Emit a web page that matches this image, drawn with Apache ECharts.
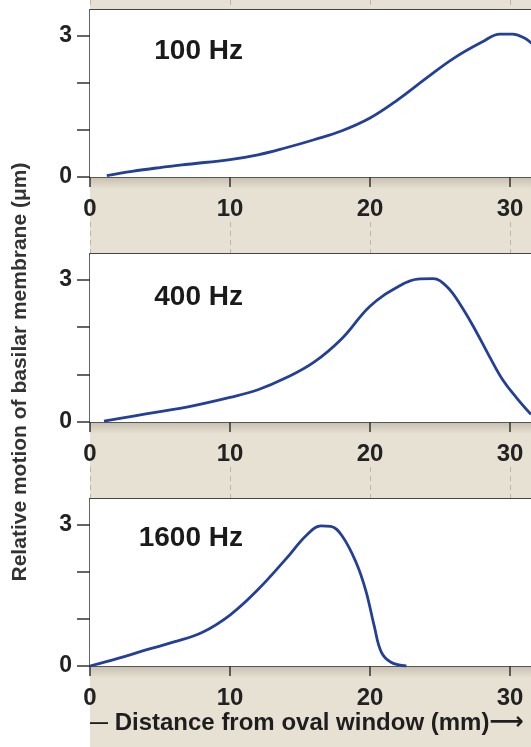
<!DOCTYPE html>
<html>
<head>
<meta charset="utf-8">
<script src="https://cdn.jsdelivr.net/npm/echarts@6/dist/echarts.min.js"></script>
<style>html,body{margin:0;padding:0;background:#fff;}#c{width:531px;height:747px;}</style>
</head>
<body>
<div id="c"></div>
<script>
// Data (distance mm, relative motion µm)
var panelLabels = ['100 Hz', '400 Hz', '1600 Hz'];
var xTicks = [0, 10, 20, 30];
var yTicks = [0, 1, 2, 3];
var yLabelValues = [0, 3];
var xTitleText = 'Distance from oval window (mm)';
var yTitle = 'Relative motion of basilar membrane (μm)';

var hz100 = [[1.2,0.03],[3,0.12],[5,0.2],[7,0.27],[10,0.37],[12,0.47],[14,0.62],[16,0.79],[18,0.98],[20,1.25],[22,1.64],[24,2.09],[26,2.52],[28,2.86],[29.3,3.03],[30.2,3.03],[31,2.95],[31.6,2.82]];
var hz400 = [[1,0.02],[3,0.12],[5,0.22],[7,0.32],[10,0.52],[12,0.68],[14,0.93],[16,1.26],[18,1.76],[20,2.44],[22,2.85],[23.4,3.01],[24.5,3.02],[25.5,2.85],[26.5,2.45],[27.5,1.95],[28.5,1.4],[29.5,0.88],[30.5,0.5],[31.5,0.16]];
var hz1600 = [[0,0],[2,0.16],[4,0.34],[6,0.51],[8,0.71],[10,1.08],[12,1.62],[14,2.27],[15.5,2.78],[16.5,2.97],[17.2,2.96],[18,2.76],[19,2.2],[19.7,1.6],[20.3,0.85],[20.8,0.3],[21.5,0.08],[22.6,0]];
var seriesData = [hz100, hz400, hz1600];

var X_MAX = 31.5, Y_MAX = 3.54;
var FONT = '"Liberation Sans", Arial, Helvetica, sans-serif';
var BEIGE = '#e7e1d3';

var panelTops = [10, 254, 499];
var panelH = [167, 168, 167];

var grids = [], xAxes = [], yAxes = [], series = [], graphics = [];

graphics.push({type:'rect', left:90, top:0, z:-100, shape:{width:441, height:747}, style:{fill:BEIGE}, silent:true});

function hiddenY(gi){ return {type:'value', gridIndex:gi, min:0, max:1, show:false}; }

// panels
for (var i=0;i<3;i++){
  var gi = grids.length;
  grids.push({left:90, right:0, top:panelTops[i], height:panelH[i], show:true, backgroundColor:'#fff', borderWidth:0, z:1});
  xAxes.push({type:'value', gridIndex:gi, min:0, max:X_MAX, interval:10, position:'bottom',
    axisLine:{show:true, onZero:false, lineStyle:{color:'#333', width:1.5}},
    axisTick:{show:true, inside:false, length:10, customValues:xTicks, lineStyle:{color:'#333', width:1.5}},
    axisLabel:{show:true, customValues:xTicks, margin:20, fontFamily:FONT, fontWeight:'bold', fontSize:24, color:'#222'},
    splitLine:{show:true, lineStyle:{color:'#cfcfcf', width:1}}
  });
  xAxes.push({type:'value', gridIndex:gi, min:0, max:X_MAX, position:'top',
    axisLine:{show:true, onZero:false, lineStyle:{color:'#444', width:2}},
    axisTick:{show:false}, axisLabel:{show:false}, splitLine:{show:false}
  });
  yAxes.push({type:'value', gridIndex:gi, min:0, max:Y_MAX, interval:1,
    axisLine:{show:true, onZero:false, lineStyle:{color:'#333', width:1.5}},
    axisTick:{show:true, length:13, customValues:yTicks, lineStyle:{color:'#333', width:1.5}},
    axisLabel:{show:true, customValues:yLabelValues, margin:18, fontFamily:FONT, fontWeight:'bold', fontSize:23, color:'#222'},
    splitLine:{show:false}
  });
  series.push({type:'line', xAxisIndex:xAxes.length-2, yAxisIndex:yAxes.length-1, data:seriesData[i],
    smooth:0.4, showSymbol:false, symbol:'none', z:5,
    lineStyle:{color:'#243f98', width:2.8}});
  var lblY = [51, 297, 538][i];
  graphics.push({type:'text', x:243, y:lblY, z:50, style:{text:panelLabels[i], fill:'#1a1a1a', font:'bold 28px ' + FONT, textAlign:'right', textVerticalAlign:'middle'}});
}

// shadows under axes
var shadowTops = [177, 422, 666];
for (var s=0;s<3;s++){
  var g2 = grids.length;
  grids.push({left:90, right:0, top:shadowTops[s], height:12, show:true, borderWidth:0, z:0,
    backgroundColor:{type:'linear', x:0, y:0, x2:0, y2:1, colorStops:[{offset:0,color:'#c6bfae'},{offset:1,color:BEIGE}]}});
  xAxes.push({type:'value', gridIndex:g2, min:0, max:X_MAX, show:false});
  yAxes.push(hiddenY(g2));
}

// dashed guide lines in the beige gaps
var gapTops = [0, 222, 467], gapH = [10, 32, 32];
for (var d=0; d<3; d++){
  var g3 = grids.length;
  grids.push({left:90, right:0, top:gapTops[d], height:gapH[d], show:false, z:0});
  xAxes.push({type:'value', gridIndex:g3, min:0, max:X_MAX, interval:10,
    axisLine:{show:false}, axisTick:{show:false}, axisLabel:{show:false},
    splitLine:{show:true, lineStyle:{color:'#bdb6a7', width:1, type:[5,4]}}});
  yAxes.push(hiddenY(g3));
}

graphics.push({type:'text', x:90, y:723, z:50, style:{
  text:'{d|—}{t| ' + xTitleText + '}{a|⟶}',
  textAlign:'left', textVerticalAlign:'middle',
  rich:{
    d:{fontFamily:FONT, fontSize:18, fontWeight:'bold', fill:'#1e1e1e', color:'#1e1e1e'},
    t:{fontFamily:FONT, fontSize:24, fontWeight:'bold', fill:'#1e1e1e', color:'#1e1e1e'},
    a:{fontFamily:'"DejaVu Sans", sans-serif', fontSize:24, fontWeight:'bold', fill:'#1e1e1e', color:'#1e1e1e'}
  }}});
graphics.push({type:'text', x:20, y:372, rotation:Math.PI/2, z:50, style:{text:yTitle, fill:'#333', font:'bold 21px ' + FONT, textAlign:'center', textVerticalAlign:'middle'}});

var chart = echarts.init(document.getElementById('c'), null, {renderer:'canvas'});
chart.setOption({
  animation:false,
  backgroundColor:'#fff',
  grid:grids, xAxis:xAxes, yAxis:yAxes, series:series, graphic:graphics
});
</script>
</body>
</html>
